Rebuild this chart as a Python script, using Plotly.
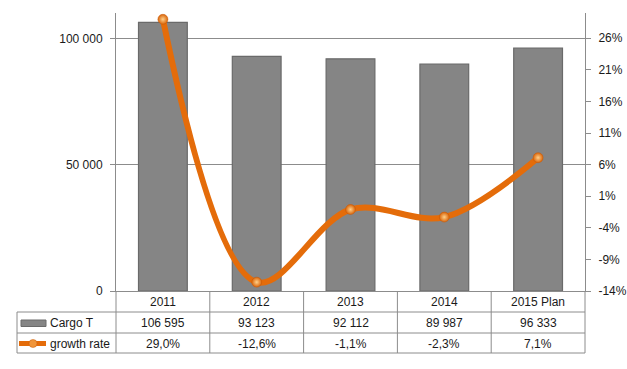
import plotly.graph_objects as go

categories = ["2011", "2012", "2013", "2014", "2015 Plan"]
cargo = [106595, 93123, 92112, 89987, 96333]
growth = [29.0, -12.6, -1.1, -2.3, 7.1]
series_names = ["Cargo T", "growth rate"]
left_ticks = [0, 50000, 100000]
right_ticks = [-14, -9, -4, 1, 6, 11, 16, 21, 26]

W, H = 627, 369
L, R, T, B = 116, 585, 13, 291
pw, ph = R - L, B - T

def px(x):
    return (x - L) / pw

def py(y):
    return (B - y) / ph

FONT = "Liberation Sans"
FS = 12
TXT = "#1a1a1a"
GRID = "#8c8c8c"
ORANGE = "#E46C0A"

ncat = len(categories)
idx = list(range(ncat))

fig = go.Figure()
fig.add_trace(go.Bar(
    x=idx, y=cargo, name=series_names[0], width=0.52,
    marker=dict(color="#858585", line=dict(color="#6a6a6a", width=1.2)),
    yaxis="y",
))
fig.add_trace(go.Scatter(
    x=idx, y=growth, name=series_names[1], mode="lines+markers",
    line=dict(color=ORANGE, width=6, shape="spline", smoothing=1.0),
    marker=dict(size=10, color="#D9650A",
                gradient=dict(type="radial", color="#FFD08A"),
                line=dict(color="#C85A08", width=0.5)),
    yaxis="y2",
))

shapes = []
line_style = dict(color=GRID, width=1)
table_left = 17
rows_y = [312, 333, 353]
for yy in rows_y:
    shapes.append(dict(type="line", xref="paper", yref="paper",
                       x0=px(table_left), x1=px(R), y0=py(yy), y1=py(yy), line=line_style))
for i in range(ncat + 1):
    xx = L + pw * i / ncat
    shapes.append(dict(type="line", xref="paper", yref="paper",
                       x0=px(xx), x1=px(xx), y0=py(B), y1=py(rows_y[-1]), line=line_style))
shapes.append(dict(type="line", xref="paper", yref="paper",
                   x0=px(table_left), x1=px(table_left), y0=py(rows_y[0]), y1=py(rows_y[-1]),
                   line=line_style))
# legend keys
shapes.append(dict(type="rect", xref="paper", yref="paper",
                   x0=px(21), x1=px(46), y0=py(320), y1=py(326.5),
                   fillcolor="#858585", line=dict(color="#6a6a6a", width=1)))
shapes.append(dict(type="line", xref="paper", yref="paper",
                   x0=px(19), x1=px(46), y0=py(343.5), y1=py(343.5),
                   line=dict(color=ORANGE, width=5)))
shapes.append(dict(type="circle", xref="paper", yref="paper",
                   x0=px(29), x1=px(37), y0=py(339.5), y1=py(347.5),
                   fillcolor="#F0953A", line=dict(color="#C85A08", width=0.5)))

annotations = []
font = dict(family=FONT, size=FS, color=TXT)
hdr_y, r1_y, r2_y = 301.5, 322.5, 343.5
for i, c in enumerate(categories):
    annotations.append(dict(x=i, xref="x", y=py(hdr_y), yref="paper", text=c,
                            showarrow=False, font=font, xanchor="center", yanchor="middle"))
    annotations.append(dict(x=i, xref="x", y=py(r1_y), yref="paper",
                            text=f"{cargo[i]:,}".replace(",", " "),
                            showarrow=False, font=font, xanchor="center", yanchor="middle"))
    annotations.append(dict(x=i, xref="x", y=py(r2_y), yref="paper",
                            text=f"{growth[i]:.1f}%".replace(".", ","),
                            showarrow=False, font=font, xanchor="center", yanchor="middle"))
annotations.append(dict(x=px(48), xref="paper", y=py(r1_y), yref="paper", text=series_names[0],
                        showarrow=False, font=font, xanchor="left", yanchor="middle"))
annotations.append(dict(x=px(48), xref="paper", y=py(r2_y), yref="paper", text=series_names[1],
                        showarrow=False, font=font, xanchor="left", yanchor="middle"))

fig.update_layout(
    template="none",
    width=W, height=H,
    margin=dict(l=L, r=W - R, t=T, b=H - B, pad=0, autoexpand=False),
    paper_bgcolor="white", plot_bgcolor="white",
    separators=", ",
    showlegend=False,
    font=dict(family=FONT, size=FS, color=TXT),
    xaxis=dict(showticklabels=False, showgrid=False, ticks="", showline=True, automargin=False,
               linecolor=GRID, linewidth=1, range=[-0.5, ncat - 0.5], zeroline=False),
    yaxis=dict(range=[0, 110300], tickvals=left_ticks, automargin=False,
               ticktext=[f"{v:,}".replace(",", " ") for v in left_ticks],
               showgrid=True, gridcolor=GRID, gridwidth=1, zeroline=False,
               showline=True, linecolor=GRID, linewidth=1,
               ticks="outside", ticklen=5, tickcolor=GRID, ticklabelstandoff=5,
               tickfont=dict(family=FONT, size=FS, color=TXT)),
    yaxis2=dict(overlaying="y", side="right", range=[-14, 30.0], automargin=False,
                tickvals=right_ticks, ticktext=[f"{v}%" for v in right_ticks],
                showgrid=False, zeroline=False,
                showline=True, linecolor=GRID, linewidth=1,
                ticks="outside", ticklen=5, tickcolor=GRID, ticklabelstandoff=5,
                tickfont=dict(family=FONT, size=FS, color=TXT)),
    shapes=shapes, annotations=annotations,
)

fig.write_html(
    "out.html",
    config={"displayModeBar": False},
    post_script="document.body.style.margin='0';document.body.style.overflow='hidden';",
)
